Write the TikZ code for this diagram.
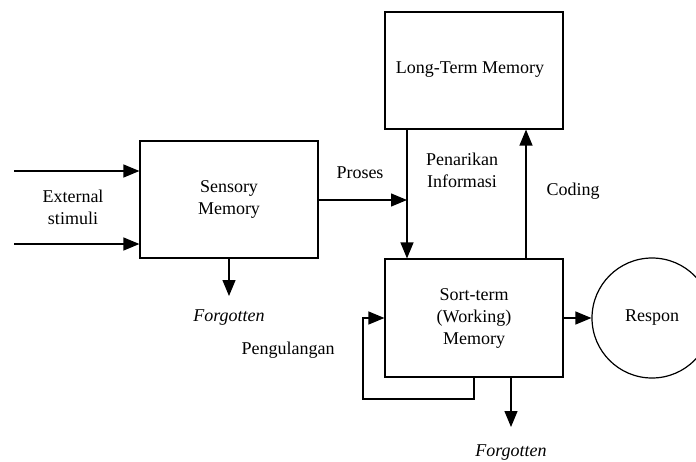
\documentclass[tikz,border=0pt]{standalone}
\usepackage{fontspec}
\setmainfont{Liberation Serif}
\usetikzlibrary{arrows.meta}
\begin{document}
\begin{tikzpicture}[x=1pt,y=-1pt,
  box/.style={draw,line width=1.2pt,minimum width=178pt,inner sep=0pt},
  lbl/.style={font=\fontsize{18}{22}\selectfont,align=center,inner sep=0pt},
  arr/.style={line width=1.3pt,-{Triangle[length=16pt,width=13pt]}},
  ln/.style={line width=1.3pt}]
\useasboundingbox (0,0) rectangle (696,461);
\node[box,minimum height=117pt] (sm) at (229,199.5) {};
\node[box,minimum height=117pt] (ltm) at (474,70.5) {};
\node[box,minimum height=118pt] (stm) at (474,318) {};
\node[draw,line width=1.2pt,circle,minimum size=120pt,inner sep=0pt] (resp) at (652,318) {};
\node[lbl] at (sm.center) {Sensory\\Memory};
\node[lbl] at (470,70) {Long-Term Memory};
\node[lbl] at (474,318) {Sort-term\\(Working)\\Memory};
\node[lbl] at (resp.center) {Respon};
\coordinate (in1) at (14,171);
\coordinate (in2) at (14,244);
\draw[arr] (in1) -- (in1 -| sm.west);
\draw[arr] (in2) -- (in2 -| sm.west);
\node[lbl] (ext) at (73,207) {External\\stimuli};
\coordinate (f1) at (229,296);
\draw[arr] (sm.south) -- (f1);
\node[lbl,font=\fontsize{18}{22}\selectfont\itshape] (fg1) at (229,318) {Forgotten};
\coordinate (px) at (407,200);
\draw[arr] (sm.east |- px) -- (px);
\node[lbl] (pros) at (360,173) {Proses};
\draw[arr] (ltm.south -| px) -- (stm.north -| px);
\node[lbl] (pen) at (462,170) {Penarikan\\Informasi};
\coordinate (cx) at (526,0);
\draw[arr] (stm.north -| cx) -- (ltm.south -| cx);
\node[lbl] (cod) at (573,191) {Coding};
\draw[arr] (stm.east) -- (resp.west);
\coordinate (lp1) at (474,399);
\coordinate (lp2) at (363,399);
\coordinate (lp3) at (363,318);
\draw[arr] (stm.south -| lp1) -- (lp1) -- (lp2) -- (lp3) -- (stm.west);
\node[lbl] (pul) at (288,350) {Pengulangan};
\coordinate (f2) at (511,427);
\draw[arr] (stm.south -| f2) -- (f2);
\node[lbl,font=\fontsize{18}{22}\selectfont\itshape] (fg2) at (511,453) {Forgotten};
\end{tikzpicture}
\end{document}
